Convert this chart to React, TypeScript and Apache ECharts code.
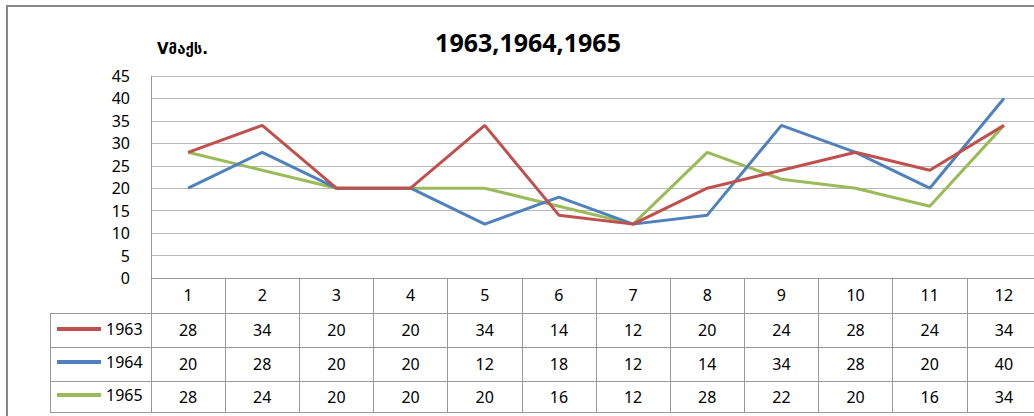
import React, { useEffect, useRef } from "react";
import * as echarts from "echarts";

const categories = ["1", "2", "3", "4", "5", "6", "7", "8", "9", "10", "11", "12"];
const seriesNames = ["1963", "1964", "1965"];
const s1963 = [28, 34, 20, 20, 34, 14, 12, 20, 24, 28, 24, 34];
const s1964 = [20, 28, 20, 20, 12, 18, 12, 14, 34, 28, 20, 40];
const s1965 = [28, 24, 20, 20, 20, 16, 12, 28, 22, 20, 16, 34];
const colors = ["#C0504D", "#4F81BD", "#9BBB59"];
const titleText = "1963,1964,1965";
const yName = "Vმაქს.";

const FONT = "'Noto Sans', 'DejaVu Sans', sans-serif";
const TABLE_LINE = "#9a9a9a";
const GRID_LINE = "#b8b8b8";

export default function App() {
  const ref = useRef<HTMLDivElement>(null);
  useEffect(() => {
    if (!ref.current) return;
    const chart = echarts.init(ref.current, undefined, { renderer: "svg" });
    const rows = [s1963, s1964, s1965];
    const offsets = [35, 69, 103];
    const margins = [17, 16.5, 15.5];
    const tickLens = [34, 34, 31];
    const tableAxes = rows.map((row, i) => ({
      type: "category",
      gridIndex: 0,
      position: "bottom",
      offset: offsets[i],
      data: row.map(String),
      boundaryGap: true,
      axisLine: { show: true, lineStyle: { color: TABLE_LINE, width: 1 } },
      axisTick: { show: true, interval: 0, length: tickLens[i], lineStyle: { color: TABLE_LINE, width: 1 } },
      axisLabel: { show: true, interval: 0, margin: margins[i], verticalAlign: "middle", color: "#000", fontSize: 16, fontFamily: FONT },
      splitLine: { show: false },
    }));
    const option: any = {
      animation: false,
      backgroundColor: "#fff",
      title: {
        text: titleText,
        left: 523,
        top: 24,
        textAlign: "center",
        textStyle: { fontSize: 25, fontWeight: "bold", color: "#000", fontFamily: FONT },
      },
      legend: {
        data: seriesNames,
        orient: "vertical",
        left: 52,
        top: 314,
        itemWidth: 44,
        itemHeight: 4,
        itemGap: 13,
        icon: "rect",
        textStyle: { fontSize: 16, color: "#000", fontFamily: FONT, lineHeight: 20 },
        selectedMode: false,
      },
      grid: { left: 151, right: 9, top: 76, bottom: 138, containLabel: false },
      xAxis: [
        {
          type: "category",
          data: categories,
          boundaryGap: true,
          axisLine: { show: true, lineStyle: { color: TABLE_LINE, width: 1 } },
          axisTick: { show: true, interval: 0, length: 35, lineStyle: { color: TABLE_LINE, width: 1 } },
          axisLabel: { interval: 0, margin: 17, verticalAlign: "middle", color: "#000", fontSize: 16, fontFamily: FONT },
          splitLine: { show: false },
        },
        ...tableAxes,
        {
          type: "category",
          position: "bottom",
          offset: 134,
          data: categories,
          axisLine: { show: true, lineStyle: { color: TABLE_LINE, width: 1 } },
          axisTick: { show: false },
          axisLabel: { show: false },
        },
      ],
      yAxis: {
        type: "value",
        min: 0,
        max: 45,
        interval: 5,
        name: yName,
        nameLocation: "end",
        nameGap: 20,
        nameTextStyle: { align: "left", padding: [0, 0, 0, 6], fontSize: 15, fontWeight: "bold", color: "#000", fontFamily: "'DejaVu Sans', sans-serif" },
        axisLine: { show: true, lineStyle: { color: TABLE_LINE, width: 1 } },
        axisTick: { show: false },
        axisLabel: { margin: 21, color: "#000", fontSize: 16, fontFamily: FONT },
        splitLine: { show: true, lineStyle: { color: GRID_LINE, width: 1 } },
      },
      series: rows.map((row, i) => ({
        name: seriesNames[i],
        type: "line",
        data: row,
        xAxisIndex: 0,
        yAxisIndex: 0,
        symbol: "none",
        lineStyle: { color: colors[i], width: 3 },
        itemStyle: { color: colors[i] },
        z: 3 + (2 - i),
      })),
      graphic: [
        { type: "polyline", shape: { points: [[7, 416], [7, 6], [1050, 6]] }, style: { stroke: "#888", lineWidth: 2, fill: "none" }, silent: true },
        { type: "line", shape: { x1: 50.5, y1: 313, x2: 50.5, y2: 412 }, style: { stroke: TABLE_LINE, lineWidth: 1 }, silent: true },
        { type: "line", shape: { x1: 50, y1: 313.5, x2: 151, y2: 313.5 }, style: { stroke: TABLE_LINE, lineWidth: 1 }, silent: true },
        { type: "line", shape: { x1: 50, y1: 347.5, x2: 151, y2: 347.5 }, style: { stroke: TABLE_LINE, lineWidth: 1 }, silent: true },
        { type: "line", shape: { x1: 50, y1: 381.5, x2: 151, y2: 381.5 }, style: { stroke: TABLE_LINE, lineWidth: 1 }, silent: true },
        { type: "line", shape: { x1: 50, y1: 412.5, x2: 151, y2: 412.5 }, style: { stroke: TABLE_LINE, lineWidth: 1 }, silent: true },
      ],
    };
    chart.setOption(option);
    return () => chart.dispose();
  }, []);
  return (
    <div style={{ position: "absolute", left: 0, top: 0, width: 1034, height: 416, overflow: "hidden", background: "#fff" }}>
      <div ref={ref} style={{ width: 1050, height: 416 }} />
    </div>
  );
}
